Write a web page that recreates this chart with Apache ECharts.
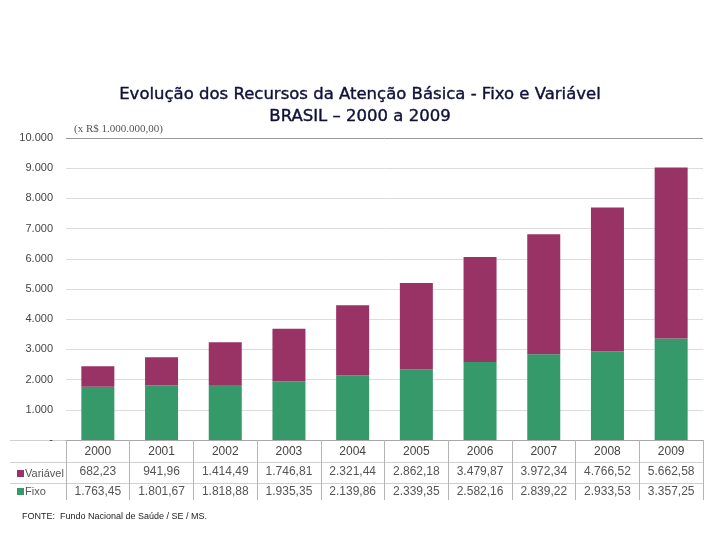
<!DOCTYPE html>
<html><head><meta charset="utf-8">
<script src="https://cdn.jsdelivr.net/npm/echarts@6/dist/echarts.min.js"></script>
<style>html,body{margin:0;padding:0;background:#fff}#c{width:720px;height:540px}</style>
</head><body><div id="c"></div>
<script>
var categories = ['2000','2001','2002','2003','2004','2005','2006','2007','2008','2009'];
var variavel = [682.23, 941.96, 1414.49, 1746.81, 2321.44, 2862.18, 3479.87, 3972.34, 4766.52, 5662.58];
var fixo = [1763.45, 1801.67, 1818.88, 1935.35, 2139.86, 2339.35, 2582.16, 2839.22, 2933.53, 3357.25];
var yTicks = [0,1000,2000,3000,4000,5000,6000,7000,8000,9000,10000];

function fmtBR(v, dec){
  var s = v.toFixed(dec);
  var parts = s.split('.');
  var ip = parts[0].replace(/\B(?=(\d{3})+(?!\d))/g, '.');
  return parts.length > 1 ? ip + ',' + parts[1] : ip;
}

var chart = echarts.init(document.getElementById('c'), null, {renderer:'canvas'});
var gridLeft = 66, gridRight = 703, gridTop = 138, gridBottom = 440;
var splitColors = yTicks.map(function(t,i){ return i === yTicks.length-1 ? '#9a9a9a' : '#dcdcdc'; });

chart.setOption({
  animation:false,
  backgroundColor:'#fff',
  title:{
    text:'Evolução dos Recursos da Atenção Básica - Fixo e Variável\nBRASIL – 2000 a 2009',
    left:'center', top:79,
    textStyle:{fontFamily:'DejaVu Sans', fontSize:16.5, fontWeight:'normal', color:'#10103a', lineHeight:22, textBorderColor:'#10103a', textBorderWidth:0.4}
  },
  legend:{
    data:['Variável','Fixo'], orient:'vertical', left:12, top:463,
    icon:'rect', itemWidth:7, itemHeight:7, itemGap:7,
    textStyle:{fontFamily:'Liberation Sans', fontSize:11, color:'#555', padding:[0,0,0,-4]},
    selectedMode:false
  },
  grid:{left:gridLeft, right:720-gridRight, top:gridTop, bottom:540-gridBottom, containLabel:false},
  xAxis:{
    type:'category', data:categories, boundaryGap:true,
    axisLine:{lineStyle:{color:'#a8a8a8'}},
    axisTick:{show:true, length:60, alignWithLabel:false, lineStyle:{color:'#b4b4b4'}},
    axisLabel:{
      margin:1, interval:0,
      formatter:function(val, idx){
        return '{y|' + val + '}\n{v|' + fmtBR(variavel[idx],2) + '}\n{f|' + fmtBR(fixo[idx],2) + '}';
      },
      rich:{
        y:{fontFamily:'Liberation Sans', fontSize:12, color:'#444', lineHeight:21},
        v:{fontFamily:'Liberation Sans', fontSize:12, color:'#555', lineHeight:20},
        f:{fontFamily:'Liberation Sans', fontSize:12, color:'#555', lineHeight:20}
      }
    }
  },
  yAxis:{
    type:'value', min:0, max:10000, interval:1000,
    name:'(x R$ 1.000.000,00)', nameLocation:'end', nameGap:3,
    nameTextStyle:{fontFamily:'Liberation Serif', fontSize:11, color:'#555', align:'left', padding:[0,0,0,8]},
    axisLine:{show:false}, axisTick:{show:false},
    axisLabel:{margin:13, fontFamily:'Liberation Sans', fontSize:11, color:'#444',
      formatter:function(v){ return v === 0 ? '-' : fmtBR(v,0); }},
    splitLine:{lineStyle:{color:splitColors}}
  },
  series:[
    {name:'Fixo', type:'bar', stack:'t', data:fixo, barWidth:33, itemStyle:{color:'#35996a'}},
    {name:'Variável', type:'bar', stack:'t', data:variavel, barWidth:33, itemStyle:{color:'#993366'}}
  ],
  graphic:[
    {type:'line', shape:{x1:10, y1:462.5, x2:gridRight, y2:462.5}, style:{stroke:'#d0d0d0', lineWidth:1}},
    {type:'line', shape:{x1:10, y1:483.5, x2:gridRight, y2:483.5}, style:{stroke:'#d0d0d0', lineWidth:1}},
    {type:'line', shape:{x1:10, y1:440.5, x2:gridLeft, y2:440.5}, style:{stroke:'#d0d0d0', lineWidth:1}},
    {type:'text', left:22, top:512, style:{text:'FONTE:  Fundo Nacional de Saúde / SE / MS.', fontFamily:'Liberation Sans', fontSize:9, fill:'#222'}}
  ]
});
</script></body></html>
